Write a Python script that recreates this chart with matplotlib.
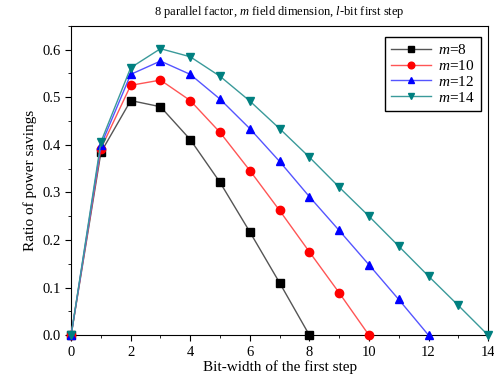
import matplotlib
matplotlib.use("Agg")
import matplotlib.pyplot as plt
from matplotlib.ticker import MultipleLocator

plt.rcParams["font.family"] = ["Liberation Serif", "DejaVu Serif"]
plt.rcParams["mathtext.fontset"] = "custom"
plt.rcParams["mathtext.it"] = "Liberation Serif:italic"
plt.rcParams["mathtext.rm"] = "Liberation Serif"

# data
x8 = list(range(0, 9))
y8 = [0, 0.384, 0.493, 0.480, 0.411, 0.321, 0.217, 0.110, 0]
x10 = list(range(0, 11))
y10 = [0, 0.392, 0.525, 0.536, 0.493, 0.426, 0.346, 0.262, 0.175, 0.089, 0]
x12 = list(range(0, 13))
y12 = [0, 0.399, 0.548, 0.576, 0.548, 0.496, 0.434, 0.365, 0.291, 0.220, 0.148, 0.075, 0]
x14 = list(range(0, 15))
y14 = [0, 0.406, 0.562, 0.602, 0.585, 0.544, 0.492, 0.434, 0.374, 0.311, 0.250, 0.187, 0.124, 0.0625, 0]

series = [
    (x8, y8, "k", "#555555", "s", r"$m$=8"),
    (x10, y10, "red", "#ff5555", "o", r"$m$=10"),
    (x12, y12, "blue", "#5555ff", "^", r"$m$=12"),
    (x14, y14, "#008080", "#3a9a9a", "v", r"$m$=14"),
]

fig = plt.figure(figsize=(4.94, 3.8), dpi=100)
ax = fig.add_axes([0.144, 0.118, 0.844, 0.814])

for xs, ys, mc, lc, mk, lab in series:
    ax.plot(xs, ys, color=lc, linewidth=1.0, marker=mk, markersize=6,
            markerfacecolor=mc, markeredgecolor=mc, label=lab, clip_on=False, zorder=3)

ax.set_xlim(0, 14)
ax.set_ylim(0, 0.65)
ax.xaxis.set_major_locator(MultipleLocator(2))
ax.xaxis.set_minor_locator(MultipleLocator(1))
ax.yaxis.set_major_locator(MultipleLocator(0.1))
ax.yaxis.set_minor_locator(MultipleLocator(0.05))
ax.tick_params(which="both", direction="out", top=False, right=False, labelsize=10.5)
ax.tick_params(which="major", length=4)
ax.tick_params(which="minor", length=2.5)
ax.yaxis.set_major_formatter(plt.FuncFormatter(lambda v, p: f"{v:.1f}"))

ax.set_xlabel("Bit-width of the first step", fontsize=11, labelpad=1)
ax.set_ylabel("Ratio of power savings", fontsize=11, labelpad=4)
ax.set_title(r"8 parallel factor, $m$ field dimension, $l$-bit first step", fontsize=9, pad=8)

leg = ax.legend(loc="upper right", bbox_to_anchor=(0.983, 0.964), borderaxespad=0,
                fontsize=11, fancybox=False, edgecolor="k", framealpha=1,
                handlelength=2.6, markerscale=0.8, borderpad=0.4, labelspacing=0.12,
                handletextpad=0.5)
leg.get_frame().set_linewidth(1.0)

fig.savefig("out.png", dpi=100)
